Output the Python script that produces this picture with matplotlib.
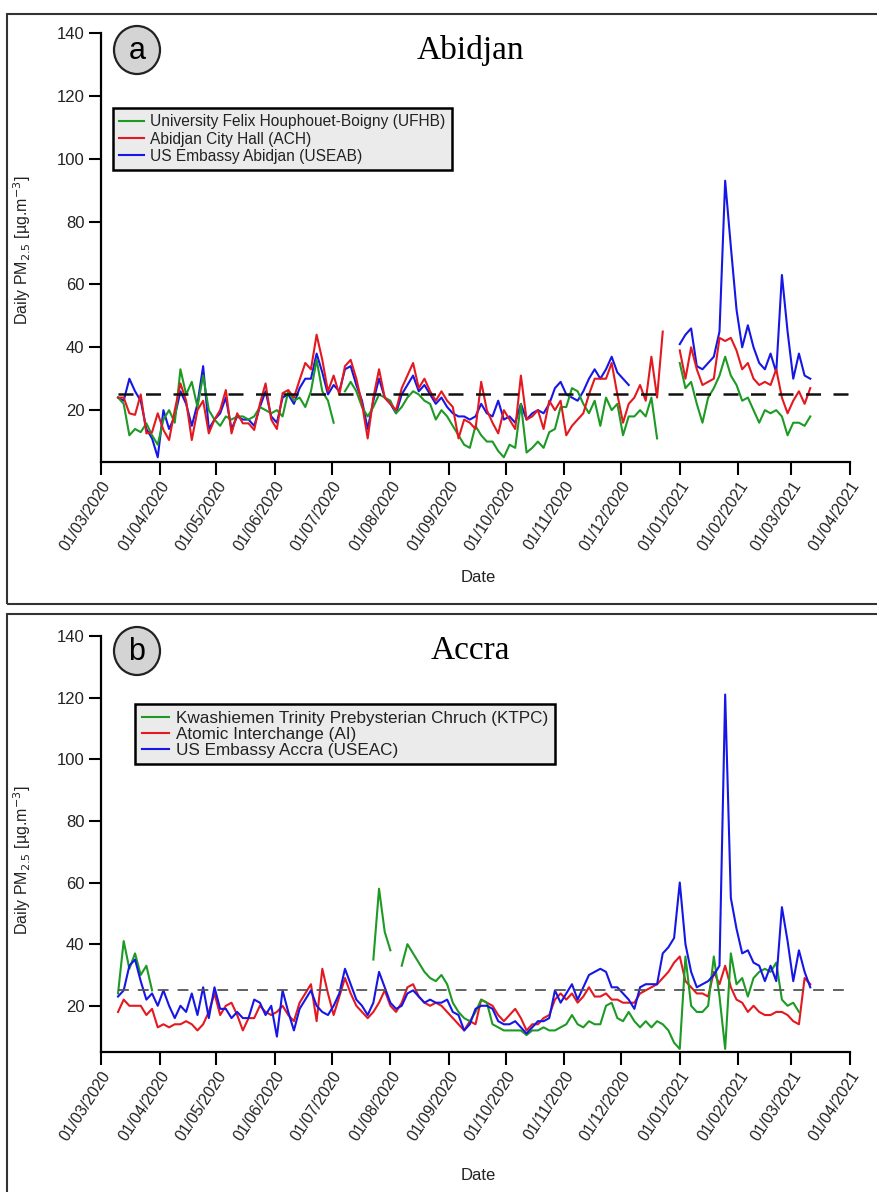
import numpy as np
import pandas as pd
import matplotlib
matplotlib.use("Agg")
import matplotlib.pyplot as plt
import matplotlib.dates as mdates
from matplotlib.patches import Rectangle, Ellipse

nan = np.nan

# ---------------- data (3-day samples from 10/03/2020) ----------------
dates = pd.date_range("2020-03-10", periods=123, freq="3D")

# Panel a: Abidjan
ufhb = [24, 22, 12, 14, 13, 15.8, 12, 9, 17, 20,
        16, 33, 25, 29, 21, 31, 20, 17, 15, 18,
        17, 18, 18, 17, 18, 21, 20, 19, 20, 18,
        26, 23, 24, 21, 26, 36, 26, 23, 16, nan,
        26, 29, 26, 21, 18, 21, 25, 24, 23, 19,
        21, 24, 26, 25, 23, 22, 17, 20, 18, 15,
        12, 9, 8, 15, 12, 10, 10, 7, 5, 9,
        8, 22, 6.5, 8, 10, 8, 13, 14, 21, 21,
        27, 26, 22, 19, 23, 15, 24, 20, 22, 12,
        18, 18, 20, 18, 24, 11, nan, nan, nan, 35,
        27, 29, 22, 16, 24, 27, 31, 37, 31, 28,
        23, 24, 20, 16, 20, 19, 20, 18, 12, 16,
        16, 15, 18]
ach = [24, 24, 19, 18.5, 25, 12.6, 13, 19, 13.7, 10.5,
       20, 28.5, 23, 10.5, 20, 23, 12.6, 17, 20, 26.4,
       12.6, 19, 15.8, 15.8, 13.7, 22, 28.5, 17, 14, 25.4,
       26.4, 24, 29.6, 35, 33, 44, 36, 26, 31, 25,
       34, 36, 30, 22, 11, 24, 33, 24, 22, 20,
       27, 31, 35, 27, 30, 26, 23, 26, 23, 21,
       11, 17, 16, 14, 29, 20, 16, 12.6, 20, 17,
       14, 31, 17, 18, 20, 14, 23, 20, 23, 12,
       15, 17, 19, 25, 30, 30, 30, 35, 25, 16,
       22, 24, 28, 23, 37, 24, 45, nan, nan, 39,
       30, 40, 33, 28, 29, 30, 43, 42, 43, 39,
       33, 35, 30, 28, 29, 28, 33, 24, 19, 23,
       26, 22, 27]
useab = [24, 23, 30, 26, 23, 14, 11, 5, 20, 14,
         18, 26, 22, 15, 22, 34, 14, 17, 19, 24,
         14, 18, 17, 17, 15, 21, 26, 18, 16, 24,
         25, 22, 27, 30, 30, 38, 32, 25, 28, 26,
         33, 34, 28, 23, 14, 23, 30, 24, 22, 19,
         25, 28, 31, 26, 28, 25, 22, 24, 21, 19,
         18, 18, 17, 18, 22, 19, 18, 23, 17, 18,
         16, 22, 17, 19, 20, 19, 22, 27, 29, 25,
         24, 23, 26, 30, 33, 30, 33, 37, 32, 30,
         28, nan, nan, nan, nan, nan, nan, nan, nan, 41,
         44, 46, 34, 33, 35, 37, 45, 93, 72, 52,
         40, 47, 40, 35, 33, 38, 32, 63, 45, 30,
         38, 31, 30]

# Panel b: Accra
ktpc = [24, 41, 32, 37, 30, 33, 25, nan, nan, nan,
        nan, nan, nan, nan, nan, nan, nan, nan, nan, nan,
        nan, nan, nan, nan, nan, nan, nan, nan, nan, nan,
        nan, nan, nan, nan, nan, nan, nan, nan, nan, nan,
        nan, nan, nan, nan, nan, 35, 58, 44, 38, nan,
        33, 40, 37, 34, 31, 29, 28, 30, 27, 21,
        18, 16, 15, 18, 22, 21, 14, 13, 12, 12,
        12, 12, 10.5, 12, 12, 13, 12, 12, 13, 14,
        17, 14, 13, 15, 14, 14, 20, 21, 16, 15,
        18, 15, 13, 15, 13, 15, 14, 12, 8, 6,
        36, 20, 18, 18, 20, 36, 23, 6, 37, 27,
        29, 23, 29, 31, 32, 31, 34, 22, 20, 21,
        18, nan, nan]
ai = [18, 22, 20, 20, 20, 17, 19, 13, 14, 13,
      14, 14, 15, 14, 12, 14, 18, 24, 17, 20,
      21, 17, 12, 16, 16, 20, 18, 17, 18, 20,
      17, 15, 21, 24, 27, 15, 32, 24, 17, 23,
      29, 24, 20, 18, 16, 18, 21, 25, 20, 18,
      21, 26, 27, 23, 21, 20, 21, 20, 18, 16,
      14, 12, 15, 14, 22, 21, 20, 17, 15, 17,
      19, 16, 12, 14, 14, 16, 17, 22, 24, 22,
      24, 21, 23, 26, 23, 23, 24, 22, 22, 21,
      21, 21, 24, 25, 26, 27, 29, 31, 34, 36,
      28, 26, 24, 24, 23, 31, 27, 33, 26, 22,
      21, 18, 20, 18, 17, 17, 18, 18, 17, 15,
      14, 29, 27]
useac = [23, 25, 33, 35, 28, 22, 24, 20, 25, 20,
         16, 20, 18, 24, 17, 26, 16, 26, 19, 19,
         16, 18, 16, 16, 22, 21, 17, 20, 10, 25,
         18, 12, 19, 22, 25, 20, 18, 17, 20, 24,
         32, 27, 22, 20, 17, 21, 31, 26, 21, 19,
         20, 24, 25, 23, 21, 22, 21, 21, 22, 18,
         17, 12, 14, 19, 20, 20, 19, 15, 14, 14,
         15, 13, 11, 13, 15, 15, 16, 25, 21, 24,
         27, 22, 26, 30, 31, 32, 31, 26, 26, 24,
         22, 19, 26, 27, 27, 27, 37, 39, 42, 60,
         40, 31, 26, 27, 28, 30, 33, 121, 55, 45,
         37, 38, 34, 33, 28, 33, 28, 52, 41, 28,
         38, 31, 26]

labels_a = ["University Felix Houphouet-Boigny (UFHB)", "Abidjan City Hall (ACH)",
            "US Embassy Abidjan (USEAB)"]
labels_b = ["Kwashiemen Trinity Prebysterian Chruch (KTPC)", "Atomic Interchange (AI)",
            "US Embassy Accra (USEAC)"]
who_limit = 25
yticks = [20, 40, 60, 80, 100, 120, 140]
xtick_dates = pd.date_range("2020-03-01", "2021-04-01", freq="MS")

GREEN, RED, BLUE = "#1d9a24", "#e3191f", "#1616e6"
SANS = ["Liberation Sans", "DejaVu Sans"]
SERIF = ["Liberation Serif", "DejaVu Serif"]

W, H = 878, 1192
fig = plt.figure(figsize=(W / 100, H / 100), dpi=100)


def fx(px):
    return px / W


def fy(py):
    return 1 - py / H


# panel frames
fig.patches.append(Rectangle((fx(7), fy(604)), 1.2, fy(14) - fy(604), transform=fig.transFigure,
                             fill=False, ec="#333333", lw=1.5))
fig.patches.append(Rectangle((fx(7), fy(1192 + 20)), 1.2, fy(614) - fy(1212), transform=fig.transFigure,
                             fill=False, ec="#333333", lw=1.5))


def make_panel(top_px, bot_px, series, colors, labels, order, title, letter, letter_y,
               ymin, dash_color, dash_lw, dash_style, leg_xy, leg_size, leg_spacing,
               xlabel_y, ylab_y):
    ax = fig.add_axes([fx(101), fy(bot_px), fx(850) - fx(101), fy(top_px) - fy(bot_px)])
    lines = {}
    for k in order:
        ln, = ax.plot(dates, series[k], color=colors[k], lw=1.5, label=labels[k])
        lines[k] = ln
    ax.plot([dates[0], pd.Timestamp("2021-04-01")], [who_limit, who_limit], color=dash_color,
            lw=dash_lw, dashes=dash_style)
    ax.set_xlim(pd.Timestamp("2020-03-01"), pd.Timestamp("2021-04-01"))
    ax.set_ylim(ymin, 140)
    ax.set_yticks(yticks)
    ax.set_xticks(xtick_dates)
    ax.xaxis.set_major_formatter(mdates.DateFormatter("%d/%m/%Y"))
    for s in ["top", "right"]:
        ax.spines[s].set_visible(False)
    for s in ["left", "bottom"]:
        ax.spines[s].set_linewidth(1.6)
    ax.tick_params(direction="out", length=9, width=1.5, pad=3)
    for t in ax.get_yticklabels():
        t.set_fontfamily(SANS)
        t.set_fontsize(12)
        t.set_color("#222222")
    for t in ax.get_xticklabels():
        t.set_fontfamily(SANS)
        t.set_fontsize(11.5)
        t.set_rotation(57)
        t.set_ha("right")
        t.set_va("top")
        t.set_rotation_mode("anchor")
        t.set_color("#222222")
    ax.set_facecolor("none")
    # legend
    handles = [lines[k] for k in range(3)]
    leg = ax.legend(handles, [labels[k] for k in range(3)], loc="upper left",
                    bbox_to_anchor=(fx(leg_xy[0]), fy(leg_xy[1])), bbox_transform=fig.transFigure,
                    borderaxespad=0, frameon=True, fancybox=False, handlelength=1.6,
                    handletextpad=0.4, labelspacing=leg_spacing, borderpad=0.4,
                    prop={"family": SANS, "size": leg_size})
    leg.get_frame().set_facecolor("#ebebeb")
    leg.get_frame().set_edgecolor("black")
    leg.get_frame().set_linewidth(1.8)
    leg.get_frame().set_alpha(1)
    for t in leg.get_texts():
        t.set_color("#222222")
    # title
    fig.text(fx(470), fy(letter_y), title, family=SERIF, fontsize=24, ha="center", va="center")
    # letter badge
    fig.patches.append(Ellipse((fx(137), fy(letter_y)), fx(46), 48 / H, transform=fig.transFigure,
                               fc="#d4d4d4", ec="#222222", lw=1.6))
    fig.text(fx(137), fy(letter_y + 1), letter, family=SANS, fontsize=22, ha="center", va="center")
    # axis labels
    fig.text(fx(478), fy(xlabel_y), "Date", family=SANS, fontsize=12, ha="center", va="center",
             color="#222222")
    fig.text(fx(22), fy(ylab_y), r"Daily PM$_{2.5}$ [µg.m$^{-3}$]", family=SANS, fontsize=11.5,
             rotation=90, ha="center", va="center", color="#222222")
    return ax


make_panel(33, 462, [ufhb, ach, useab], [GREEN, RED, BLUE], labels_a, [2, 0, 1],
           "Abidjan", "a", 50, 3.5, "#111111", 1.8, (6, 5),
           (113, 108), 11.2, 0.15, 578, 250)
make_panel(636, 1052, [ktpc, ai, useac], [GREEN, RED, BLUE], labels_b, [1, 0, 2],
           "Accra", "b", 651, 5.0, "#555555", 1.3, (6, 5),
           (135, 704), 12.3, 0.05, 1175, 860)

fig.savefig("out.png", dpi=100)
